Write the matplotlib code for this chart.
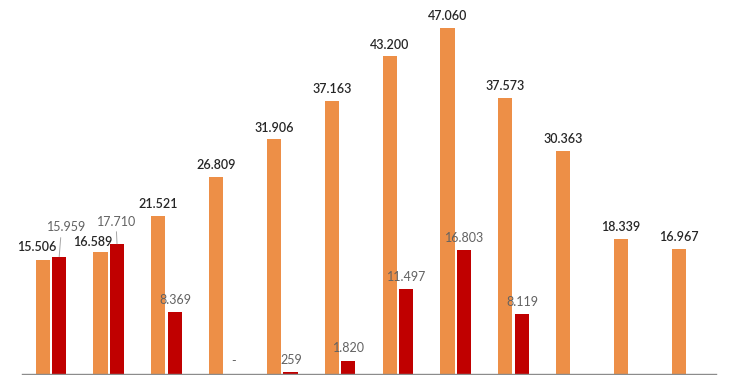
import numpy as np
import matplotlib
matplotlib.use("Agg")
import matplotlib.pyplot as plt

# values (thousands separator "." in the labels)
series_a = [15506, 16589, 21521, 26809, 31906, 37163, 43200, 47060, 37573, 30363, 18339, 16967]
series_b = [15959, 17710, 8369, 0, 259, 1820, 11497, 16803, 8119, None, None, None]

ORANGE = "#ED8F47"
RED = "#C00000"


def fmt(v):
    if v == 0:
        return "-"
    return f"{v:,}".replace(",", ".")


plt.rcParams['font.family'] = ['Lato', 'DejaVu Sans']

fig = plt.figure(figsize=(7.5, 3.75), dpi=100)
ax = fig.add_axes([22 / 750, 1 / 375, 694 / 750, 373 / 375])

x = np.arange(len(series_a))
w = 0.245
off = 0.143
b_vals = [np.nan if v is None else v for v in series_b]
ax.bar(x - off, series_a, w, color=ORANGE)
ax.bar(x + off, b_vals, w, color=RED)

# label nudges in points (dx, dy) for the crowded first two groups
a_nudge = {0: (-4.5, 9), 1: (-5.5, 7)}
b_nudge = {0: (5, 21), 1: (0, 16)}
b_relpos = {0: (0.37, 0), 1: (0.48, 0)}

for i, v in enumerate(series_a):
    dx, dy = a_nudge.get(i, (0, 8.5))
    ax.annotate(fmt(v), (x[i] - off, v), xytext=(dx, dy), textcoords="offset points",
                ha="center", va="center", fontsize=9, color="#262626", fontweight="semibold")

for i, v in enumerate(series_b):
    if v is None:
        continue
    dx, dy = b_nudge.get(i, (0.5, 9))
    arrow = None
    if i in b_relpos:
        arrow = dict(arrowstyle="-", color="#a6a6a6", lw=0.7, shrinkA=1, shrinkB=0,
                     relpos=b_relpos[i])
    ax.annotate(fmt(v), (x[i] + off, v), xytext=(dx, dy), textcoords="offset points",
                ha="center", va="center", fontsize=9, color="#626262", arrowprops=arrow)

ax.set_xlim(-0.5, 11.5)
ax.set_ylim(0, 50730)
ax.set_yticks([])
ax.set_xticks(np.arange(-0.5, 12, 1))
ax.set_xticklabels([])
ax.tick_params(axis="x", length=3, color="#8c8c8c", width=0.8)
for s in ["top", "right", "left"]:
    ax.spines[s].set_visible(False)
ax.spines["bottom"].set_color("#8c8c8c")
ax.spines["bottom"].set_linewidth(1)
ax.patch.set_alpha(0)

fig.savefig("out.png", dpi=100)
